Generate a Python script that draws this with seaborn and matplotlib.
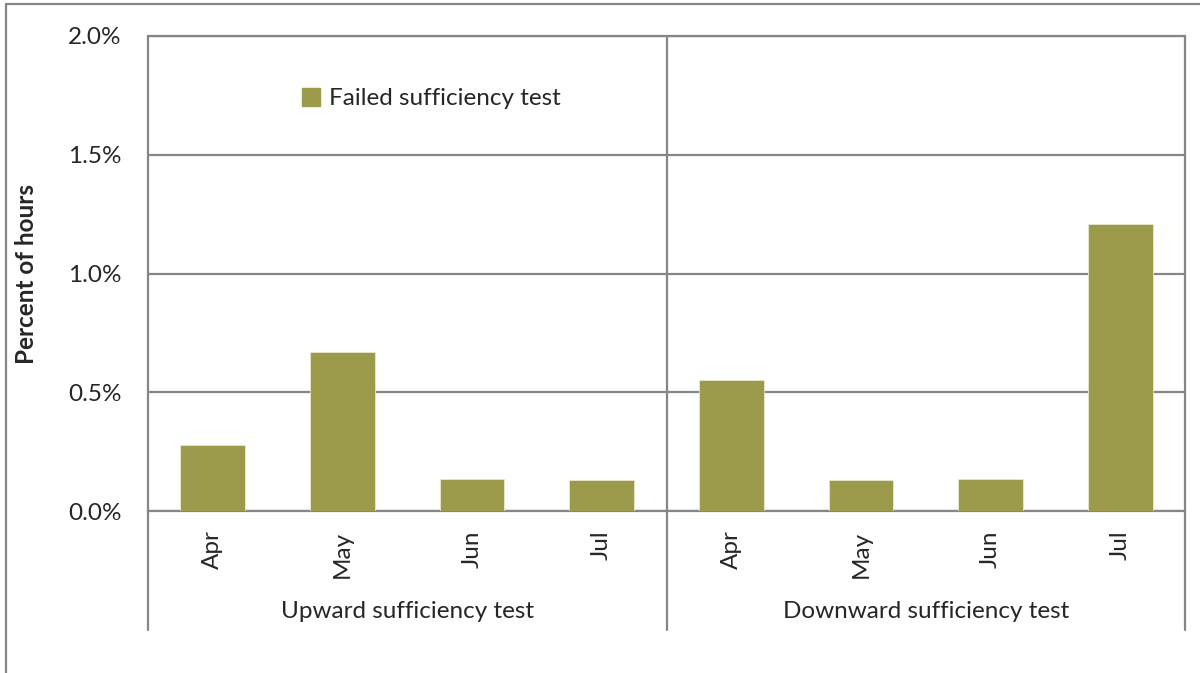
import pandas as pd
import seaborn as sns
import matplotlib.pyplot as plt
from matplotlib.lines import Line2D
from matplotlib.patches import Patch
from matplotlib.ticker import FuncFormatter

# data
months = ["Apr", "May", "Jun", "Jul"]
groups = ["Upward sufficiency test", "Downward sufficiency test"]
upward = [0.277, 0.669, 0.136, 0.131]
downward = [0.552, 0.131, 0.136, 1.207]

bar_color = "#9B9B4B"
grid_color = "#868686"

df = pd.DataFrame({
    "pos": list(range(8)),
    "value": upward + downward,
})

sns.set_style("white")
plt.rcParams["font.family"] = ["Lato", "DejaVu Sans"]
fs = 17.5

fig = plt.figure(figsize=(12, 6.73), dpi=100)
ax = fig.add_axes([148 / 1200, 1 - 511 / 673, (1185 - 148) / 1200, (511 - 36) / 673])

sns.barplot(data=df, x="pos", y="value", color=bar_color, saturation=1, width=0.5,
            edgecolor="#e8e8d0", linewidth=0.6, ax=ax, zorder=3)

ax.set_xlim(-0.5, 7.5)
ax.set_ylim(0, 2.0)
ax.set_yticks([0, 0.5, 1.0, 1.5, 2.0])
ax.yaxis.set_major_formatter(FuncFormatter(lambda v, p: f"{v:.1f}%"))
ax.grid(axis="y", color=grid_color, linewidth=1.6, zorder=0)
ax.set_axisbelow(True)

ax.set_xticks(range(8))
ax.set_xticklabels(months + months, rotation=90, fontsize=fs)
ax.tick_params(axis="x", length=0, pad=14)
ax.tick_params(axis="y", length=0, pad=19, labelsize=fs)
ax.set_xlabel("")
ax.set_ylabel("Percent of hours", fontsize=fs, fontweight="bold")
ax.yaxis.set_label_coords((38 - 148) / 1037, 0.5)

for side in ["top", "right", "left", "bottom"]:
    ax.spines[side].set_color(grid_color)
    ax.spines[side].set_linewidth(1.6)
ax.spines["right"].set_visible(False)
ax.spines["left"].set_visible(False)

# group separators running down through the category labels
trans = ax.get_xaxis_transform()
bottom_frac = -(630 - 511) / (511 - 36)
for x in [-0.5, 3.5, 7.5]:
    ax.add_line(Line2D([x, x], [1, bottom_frac], transform=trans, color=grid_color,
                       linewidth=1.6, clip_on=False, zorder=4))

# group labels
for i, g in enumerate(groups):
    ax.text(1.5 + 4 * i, -(612 - 511) / (511 - 36), g, transform=trans,
            ha="center", va="center", fontsize=fs)

ax.legend(handles=[Patch(color=bar_color, label="Failed sufficiency test")],
          loc="upper left", bbox_to_anchor=((280 - 148) / 1037, 1 - (66 - 36) / 475),
          frameon=False, fontsize=fs, handlelength=0.75, handleheight=0.75,
          handletextpad=0.35)

# outer chart border (clipped at right and bottom in the reference)
fig.add_artist(Line2D([6 / 1200, 6 / 1200], [0, 1 - 4 / 673], color=grid_color, linewidth=1.6))
fig.add_artist(Line2D([6 / 1200, 1], [1 - 4 / 673, 1 - 4 / 673], color=grid_color, linewidth=1.6))

fig.savefig("out.png", dpi=100)
